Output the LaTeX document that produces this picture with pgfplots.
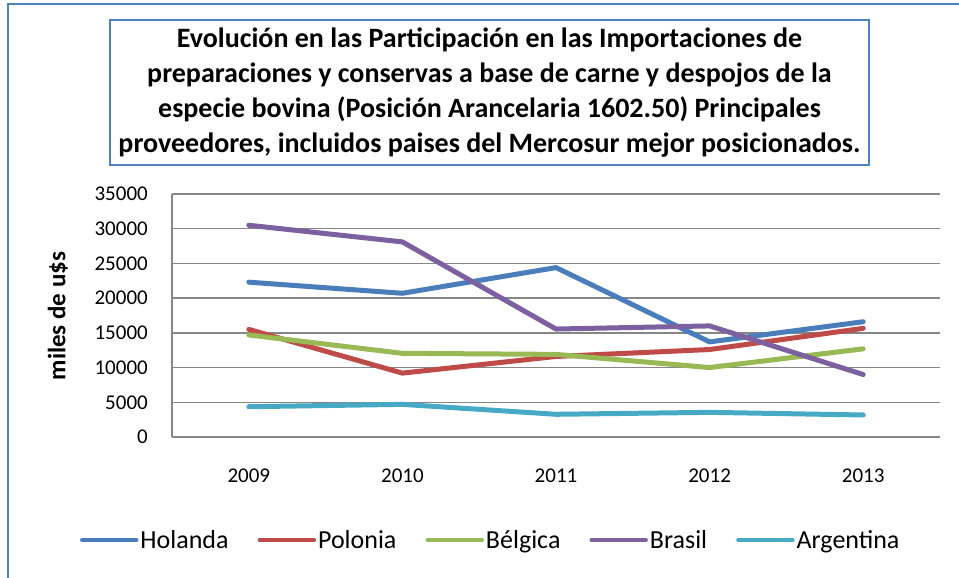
\documentclass[border=0pt]{standalone}
\usepackage{fontspec}
\setmainfont{Carlito}
\usepackage{pgfplots}
\pgfplotsset{compat=1.18}
\definecolor{borderblue}{HTML}{4F81BD}
\definecolor{gridgray}{HTML}{868686}
\definecolor{cHol}{HTML}{4A7EBB}
\definecolor{cPol}{HTML}{BE4B48}
\definecolor{cBel}{HTML}{98B954}
\definecolor{cBra}{HTML}{7D60A0}
\definecolor{cArg}{HTML}{46AAC5}
\begin{document}
\begin{tikzpicture}[x=1pt,y=1pt]
\useasboundingbox (0,0) rectangle (959,578);
\draw[color=borderblue, line width=1.8pt] (8.3,0) -- (8.3,574) -- (959,574);
\draw[color=borderblue, line width=1.8pt] (110,558) rectangle (869,413);
\node[align=center, font=\fontsize{28}{35}\selectfont\bfseries] at (489.5,485.5)
 {Evolución en las Participación en las Importaciones de\\
  preparaciones y conservas a base de carne y despojos de la\\
  especie bovina (Posición Arancelaria 1602.50) Principales\\
  proveedores, incluidos paises del Mercosur mejor posicionados.};
\node[rotate=90, font=\fontsize{25}{30}\selectfont\bfseries] at (58,262) {miles de u\$s};
\begin{axis}[
  at={(172pt,141pt)}, anchor=south west,
  scale only axis, width=768pt, height=243pt,
  xmin=-0.5, xmax=4.5, ymin=0, ymax=35000,
  scaled y ticks=false,
  xtick={0,1,2,3,4}, xticklabels={2009,2010,2011,2012,2013},
  ytick={0,5000,10000,15000,20000,25000,30000,35000},
  yticklabels={0,5000,10000,15000,20000,25000,30000,35000},
  axis lines*=left,
  axis line style={gridgray, line width=1.5pt},
  ymajorgrids, grid style={gridgray, line width=1.5pt},
  major tick length=0pt,
  yticklabel style={font=\fontsize{21}{25}\selectfont, anchor=east, inner sep=0pt, xshift=-24pt},
  xticklabel style={font=\fontsize{21}{25}\selectfont, anchor=north, inner sep=0pt, yshift=-32pt},
  every axis plot/.append style={line width=5pt, line cap=round, line join=round, mark=none},
  legend style={at={(0.415,-0.424)}, anchor=center, draw=none, fill=none,
    font=\fontsize{26}{30}\selectfont, legend columns=-1,
    /tikz/every even column/.append style={column sep=27pt},
    nodes={inner sep=2pt}},
  legend image code/.code={\draw[#1, line width=4.5pt, line cap=round] (0pt,0pt) -- (54pt,0pt);},
]
\addplot[cHol] coordinates {(0,22300) (1,20700) (2,24400) (3,13700) (4,16600)};
\addplot[cPol] coordinates {(0,15500) (1,9200) (2,11600) (3,12600) (4,15650)};
\addplot[cBel] coordinates {(0,14700) (1,12050) (2,11900) (3,10000) (4,12700)};
\addplot[cBra] coordinates {(0,30500) (1,28100) (2,15550) (3,16000) (4,9000)};
\addplot[cArg] coordinates {(0,4360) (1,4700) (2,3270) (3,3550) (4,3170)};
\legend{Holanda,Polonia,Bélgica,Brasil,Argentina}
\end{axis}
\end{tikzpicture}
\end{document}
